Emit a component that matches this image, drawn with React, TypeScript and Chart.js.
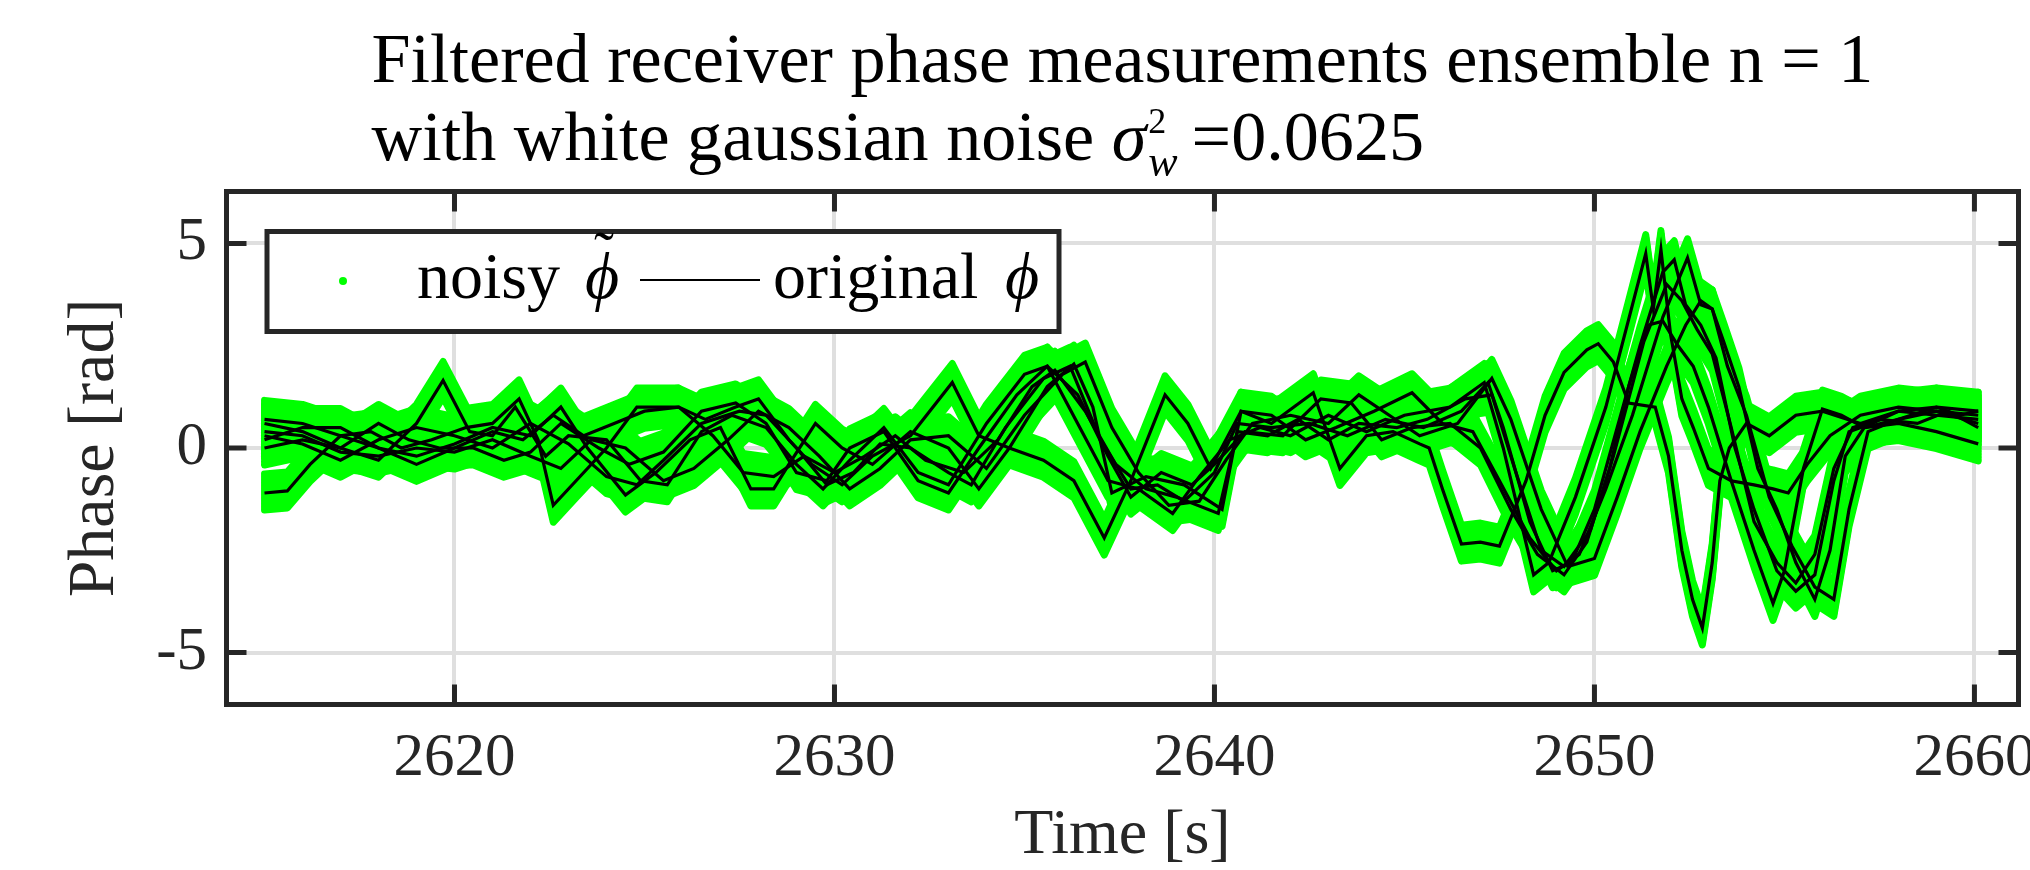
import React, { useEffect, useRef } from 'react';
import { Chart, registerables } from 'chart.js';

Chart.register(...registerables);

const SERIF = '"Liberation Serif", "Times New Roman", serif';

// ---- axes ----
const xTickValues = [2620, 2630, 2640, 2650, 2660];
const yTickValues = [-5, 0, 5];
const xLimits = [2614, 2661.16];
const yLimits = [-6.27, 6.27];

// ---- texts ----
const titleLine1 = 'Filtered receiver phase measurements ensemble n = 1';
const titleLine2 = 'with white gaussian noise';
const noiseVariance = '=0.0625';
const xLabel = 'Time [s]';
const yLabel = 'Phase [rad]';
const legendNoisy = 'noisy';
const legendOriginal = 'original';

// ---- ensemble phase curves: [time s, phase rad] ----
const curve1: [number, number][] = [
  [2615.0, -1.1], [2615.6, -1.05], [2616.2, -0.4], [2617.0, 0.3], [2617.8, 0.4], [2618.6, 0.0],
  [2619.4, 0.2], [2620.3, 0.5], [2621.0, 0.6], [2621.7, 1.2], [2622.2, 0.2], [2622.6, -1.4],
  [2623.2, -0.8], [2624.0, 0.0], [2624.8, 1.0], [2625.9, 1.0], [2626.6, 0.7], [2627.4, 1.0],
  [2628.0, 1.2], [2628.8, 0.2], [2629.4, -0.4], [2630.2, -0.9], [2631.0, -0.2], [2632.0, 0.3],
  [2633.1, 1.6], [2633.8, 0.3], [2634.6, 0.0], [2635.5, -0.3], [2636.3, -0.8], [2637.1, -2.2],
  [2637.8, -0.8], [2638.7, 1.3], [2639.3, 0.6], [2639.9, -0.5], [2640.7, 0.9], [2641.5, 0.6],
  [2642.6, 1.35], [2643.3, -0.5], [2644.0, 0.3], [2644.7, 0.4], [2645.4, 0.1], [2645.65, 0.0],
  [2646.0, -1.0], [2646.5, -2.35], [2647.0, -2.3], [2647.5, -2.4], [2648.2, -0.8], [2648.7, 0.8],
  [2649.2, 1.85], [2649.8, 2.4], [2650.1, 2.55], [2650.5, 2.1], [2650.9, 1.1], [2651.6, 1.0],
  [2651.95, -0.2], [2652.3, -2.5], [2652.58, -3.7], [2652.84, -4.4], [2653.1, -2.8], [2653.3, -0.8],
  [2653.55, 0.0], [2654.0, 0.6], [2654.6, 0.3], [2655.3, 0.8], [2656.0, 0.9], [2657.0, 0.6],
  [2658.0, 0.9], [2659.0, 1.0], [2660.1, 0.9],
];

const curve2: [number, number][] = [
  [2615.0, 0.6], [2616.0, 0.4], [2617.0, 0.0], [2618.0, -0.3], [2619.0, 0.6], [2619.7, 1.65],
  [2620.4, 0.4], [2621.0, 0.3], [2621.6, 1.0], [2622.4, -0.2], [2623.0, 0.3], [2624.0, 0.2],
  [2624.9, -0.8], [2625.6, -0.9], [2626.5, 0.4], [2627.3, 0.8], [2628.2, 0.5], [2629.0, -0.4],
  [2629.7, -1.0], [2630.4, -0.3], [2631.3, 0.5], [2632.2, -0.6], [2633.0, -0.9], [2634.0, 0.6],
  [2635.0, 1.8], [2635.6, 2.0], [2636.4, 0.6], [2637.2, -0.8], [2638.0, -1.0], [2638.9, -1.6],
  [2639.6, -0.7], [2640.4, 0.2], [2641.2, 0.5], [2642.0, 0.3], [2643.0, 0.8], [2644.0, 0.4],
  [2645.0, 0.8], [2646.2, 1.0], [2647.1, 1.6], [2647.6, 0.0], [2648.4, -3.1], [2648.8, -2.8],
  [2649.5, -1.2], [2650.3, 1.0], [2651.0, 3.5], [2651.35, 4.75], [2651.55, 3.4], [2651.75, 4.85],
  [2652.0, 2.8], [2652.3, 1.2], [2652.6, 0.5], [2653.0, -0.5], [2653.6, -0.8], [2654.2, -2.5],
  [2654.7, -3.8], [2655.0, -3.0], [2655.5, -0.5], [2656.0, 0.95], [2656.5, 0.8], [2657.1, 0.5],
  [2658.0, 0.7], [2659.0, 0.9], [2660.1, 0.6],
];

const curve3: [number, number][] = [
  [2615.0, 0.2], [2616.0, 0.5], [2617.0, 0.5], [2618.0, 0.0], [2619.0, -0.2], [2620.0, 0.1],
  [2621.0, 0.5], [2622.0, 0.3], [2622.8, 1.0], [2623.5, 0.0], [2624.5, -1.15], [2625.3, -0.6],
  [2626.2, 0.2], [2627.0, 0.5], [2627.8, -1.0], [2628.4, -1.0], [2628.8, -0.4], [2629.5, 0.6],
  [2630.2, 0.0], [2631.0, -0.4], [2632.0, 0.4], [2633.0, 0.0], [2633.8, -1.0], [2634.6, 0.0],
  [2635.6, 1.5], [2636.3, 2.05], [2636.8, 1.0], [2637.3, -1.1], [2638.2, -0.7], [2639.2, -0.9],
  [2640.2, -1.5], [2640.7, 0.9], [2641.5, 0.8], [2642.4, 0.2], [2643.2, 0.5], [2644.2, 0.9],
  [2645.2, 1.35], [2646.0, 0.6], [2646.8, 0.4], [2647.5, -0.8], [2648.3, -2.2], [2649.0, -3.0],
  [2649.6, -2.6], [2650.3, -1.0], [2651.0, 0.8], [2651.8, 3.2], [2652.45, 4.65], [2652.8, 3.5],
  [2653.1, 3.4], [2653.4, 2.6], [2653.8, 1.5], [2654.3, -0.5], [2654.8, -1.5], [2655.3, -2.8],
  [2655.8, -3.7], [2656.2, -2.5], [2656.6, -0.2], [2657.1, 0.5], [2658.0, 0.6], [2659.0, 0.4],
  [2660.1, 0.1],
];

const curve4: [number, number][] = [
  [2615.0, 0.3], [2616.0, 0.1], [2617.0, -0.3], [2618.0, 0.2], [2619.0, 0.5], [2620.0, 0.3],
  [2621.0, 0.0], [2622.0, 0.6], [2623.0, 0.1], [2624.0, -0.7], [2624.8, -0.9], [2625.5, -0.3],
  [2626.5, 0.6], [2627.5, 0.9], [2628.2, 0.8], [2629.0, 0.0], [2629.8, -0.9], [2630.5, -0.6],
  [2631.2, 0.1], [2632.0, 0.0], [2633.0, -0.6], [2633.6, -0.9], [2634.5, 0.5], [2635.5, 1.7],
  [2636.2, 2.0], [2637.0, 0.2], [2637.8, -1.0], [2638.5, -0.9], [2639.2, -1.3], [2640.0, -0.6],
  [2640.6, 0.6], [2641.5, 0.5], [2642.5, 0.6], [2643.5, 0.3], [2644.5, 0.7], [2645.5, 0.5],
  [2646.5, 0.9], [2647.2, 1.6], [2647.6, 0.5], [2648.3, -1.8], [2648.9, -3.0], [2649.4, -2.8],
  [2650.0, -1.5], [2650.6, 0.5], [2651.2, 2.5], [2651.8, 4.3], [2652.1, 4.6], [2652.4, 3.5],
  [2652.8, 3.0], [2653.2, 2.2], [2653.7, 0.0], [2654.2, -1.5], [2654.8, -3.0], [2655.3, -3.5],
  [2655.8, -3.1], [2656.3, -0.8], [2656.7, 0.4], [2657.3, 0.6], [2658.0, 0.9], [2659.0, 0.8],
  [2660.1, 0.7],
];

const curve5: [number, number][] = [
  [2615.0, 0.0], [2616.0, 0.2], [2617.0, 0.0], [2618.0, 0.6], [2618.8, 0.2], [2619.6, 0.0],
  [2620.5, 0.0], [2621.3, -0.3], [2622.0, -0.1], [2622.8, 0.6], [2623.8, 0.0], [2624.6, -0.4],
  [2625.5, -0.1], [2626.5, 0.9], [2627.4, 1.1], [2628.2, 0.6], [2629.0, -0.6], [2629.8, -0.8],
  [2630.4, 0.0], [2631.3, 0.4], [2632.2, -0.8], [2633.0, -1.1], [2633.8, 0.0], [2634.8, 1.3],
  [2635.6, 2.0], [2636.4, 1.3], [2637.2, -0.2], [2637.8, -1.2], [2638.6, -0.6], [2639.4, -0.9],
  [2640.0, -0.4], [2640.8, 0.4], [2641.8, 0.3], [2642.8, 1.2], [2643.6, 1.1], [2644.4, 0.2],
  [2645.2, 0.5], [2646.2, 0.6], [2647.0, 0.0], [2647.8, -1.5], [2648.5, -2.6], [2649.2, -3.1],
  [2649.8, -2.3], [2650.4, -0.5], [2650.9, 1.5], [2651.4, 3.0], [2651.8, 3.1], [2652.2, 2.5],
  [2652.6, 2.0], [2653.0, 1.0], [2653.6, -0.8], [2654.2, -0.9], [2654.7, -1.0], [2655.1, -1.1],
  [2655.6, -0.4], [2656.2, 0.3], [2657.0, 0.8], [2658.0, 1.0], [2659.0, 0.9], [2660.1, 0.8],
];

const curve6: [number, number][] = [
  [2615.0, 0.4], [2616.0, 0.3], [2617.0, -0.1], [2618.0, -0.2], [2619.0, 0.0], [2620.0, -0.1],
  [2621.0, 0.2], [2622.0, -0.2], [2622.8, -0.5], [2623.6, 0.2], [2624.5, 0.0], [2625.5, -0.8],
  [2626.3, -0.5], [2627.2, 0.2], [2628.0, 0.9], [2628.8, 0.5], [2629.6, -0.2], [2630.4, -1.0],
  [2631.2, -0.5], [2632.0, 0.2], [2633.0, 0.3], [2634.0, -0.5], [2635.0, 0.8], [2636.0, 1.8],
  [2636.6, 2.1], [2637.3, 0.5], [2638.0, -0.6], [2638.8, -1.4], [2639.6, -1.3], [2640.3, -0.3],
  [2641.0, 0.6], [2642.0, 0.8], [2643.0, 0.6], [2643.8, 1.3], [2644.6, 0.8], [2645.4, 0.3],
  [2646.4, 0.6], [2647.3, 1.7], [2647.8, 0.7], [2648.6, -1.5], [2649.3, -2.9], [2650.0, -2.7],
  [2650.6, -1.2], [2651.2, 0.4], [2651.9, 2.0], [2652.4, 3.0], [2652.8, 3.6], [2653.1, 3.4],
  [2653.5, 2.0], [2654.0, 0.8], [2654.6, -1.2], [2655.2, -2.4], [2655.8, -3.4], [2656.3, -3.7],
  [2656.7, -1.5], [2657.2, 0.4], [2658.0, 0.7], [2659.0, 1.0], [2659.6, 0.8], [2660.1, 0.9],
];

const curve7: [number, number][] = [
  [2615.0, 0.7], [2616.0, 0.6], [2617.0, 0.3], [2618.0, 0.0], [2619.0, -0.4], [2620.0, 0.0],
  [2621.0, 0.4], [2621.8, 0.2], [2622.6, 0.8], [2623.4, 0.3], [2624.2, 0.6], [2625.0, 0.9],
  [2625.9, 1.0], [2626.8, 0.3], [2627.6, -0.6], [2628.4, -0.7], [2629.2, -0.2], [2630.0, -0.6],
  [2630.8, -0.2], [2631.6, 0.3], [2632.4, -0.3], [2633.4, -0.6], [2634.3, 0.2], [2635.2, 1.5],
  [2635.8, 1.9], [2636.6, 0.9], [2637.4, -0.4], [2638.2, -1.0], [2639.0, -1.2], [2640.1, -1.6],
  [2640.6, 0.4], [2641.4, 0.3], [2642.2, 0.7], [2643.0, 0.2], [2643.8, 0.6], [2644.8, 0.5],
  [2645.6, 0.7], [2646.6, 1.2], [2647.3, 1.3], [2647.9, -0.5], [2648.6, -2.5], [2649.2, -2.9],
  [2649.9, -2.0], [2650.5, -0.2], [2651.3, 2.6], [2651.9, 4.0], [2652.3, 3.6], [2652.7, 2.9],
  [2653.1, 2.3], [2653.6, 0.5], [2654.2, -1.8], [2654.8, -2.8], [2655.3, -3.3], [2655.8, -2.6],
  [2656.3, -0.5], [2656.8, 0.5], [2657.5, 0.7], [2658.5, 0.6], [2659.3, 0.9], [2660.1, 0.5],
];

const ensemble = [curve1, curve2, curve3, curve4, curve5, curve6, curve7];

const GREEN = '#00ff00';
const AXIS_COLOR = '#262626';

// draws each noisy series as a vertical scatter band around its path
const noisyBandPlugin = {
  id: 'noisyBand',
  beforeDatasetDraw(chart: any, args: any) {
    const ds = chart.data.datasets[args.index];
    if (!ds.noisy) return;
    const ctx = chart.ctx;
    const a = chart.chartArea;
    ctx.save();
    ctx.beginPath();
    ctx.rect(a.left, a.top, a.right - a.left, a.bottom - a.top);
    ctx.clip();
    for (let off = -19; off <= 19; off += 3) {
      ctx.save();
      ctx.translate(0, off);
      args.meta.dataset.draw(ctx, a);
      ctx.restore();
    }
    ctx.restore();
    return false;
  },
};

const framePlugin = {
  id: 'matlabFrame',
  afterDatasetsDraw(chart: any) {
    const { ctx, chartArea: a, scales } = chart;
    ctx.save();
    ctx.strokeStyle = AXIS_COLOR;
    ctx.lineWidth = 5;
    ctx.lineCap = 'butt';
    ctx.beginPath();
    xTickValues.forEach((v) => {
      const px = scales.x.getPixelForValue(v);
      ctx.moveTo(px, a.bottom);
      ctx.lineTo(px, a.bottom - 20);
      ctx.moveTo(px, a.top);
      ctx.lineTo(px, a.top + 20);
    });
    yTickValues.forEach((v) => {
      const py = scales.y.getPixelForValue(v);
      ctx.moveTo(a.left, py);
      ctx.lineTo(a.left + 20, py);
      ctx.moveTo(a.right, py);
      ctx.lineTo(a.right - 20, py);
    });
    ctx.stroke();
    ctx.lineJoin = 'miter';
    ctx.strokeRect(a.left, a.top, a.right - a.left, a.bottom - a.top);
    ctx.restore();
  },
};

const annotationPlugin = {
  id: 'titleLegend',
  afterDraw(chart: any) {
    const { ctx, chartArea: a } = chart;
    ctx.save();
    // ---- legend ----
    const lx = 267, ly = 231.5, lw = 792, lh = 100;
    ctx.fillStyle = '#ffffff';
    ctx.fillRect(lx, ly, lw, lh);
    ctx.lineWidth = 5;
    ctx.strokeStyle = AXIS_COLOR;
    ctx.strokeRect(lx, ly, lw, lh);
    ctx.fillStyle = GREEN;
    ctx.beginPath();
    ctx.arc(343, 281, 4, 0, Math.PI * 2);
    ctx.fill();
    ctx.fillStyle = '#000000';
    ctx.textBaseline = 'alphabetic';
    ctx.textAlign = 'left';
    ctx.font = `66px ${SERIF}`;
    ctx.fillText(legendNoisy, 417, 298);
    ctx.font = `italic 66px ${SERIF}`;
    ctx.fillText('\u03D5', 585, 298);
    ctx.font = `60px ${SERIF}`;
    ctx.fillText('\u02DC', 594, 272);
    ctx.strokeStyle = '#000000';
    ctx.lineWidth = 2;
    ctx.beginPath();
    ctx.moveTo(640, 280);
    ctx.lineTo(760, 280);
    ctx.stroke();
    ctx.font = `66px ${SERIF}`;
    ctx.fillText(legendOriginal, 773, 298);
    ctx.font = `italic 66px ${SERIF}`;
    ctx.fillText('\u03D5', 1005, 298);

    // ---- title ----
    const cx = (a.left + a.right) / 2;
    ctx.font = `100px ${SERIF}`;
    const w100 = ctx.measureText(titleLine1).width;
    const size = (100 * 1502) / w100;
    ctx.font = `${size}px ${SERIF}`;
    const w1 = ctx.measureText(titleLine1).width;
    const x0 = cx - w1 / 2;
    ctx.fillText(titleLine1, x0, 82);
    ctx.fillText(titleLine2, x0, 160);
    let x = x0 + ctx.measureText(titleLine2 + ' ').width;
    ctx.font = `italic ${size}px ${SERIF}`;
    ctx.fillText('\u03C3', x, 160);
    x += ctx.measureText('\u03C3').width + 2;
    ctx.font = `36px ${SERIF}`;
    ctx.fillText('2', x, 133);
    const w2 = ctx.measureText('2').width;
    ctx.font = `italic 44px ${SERIF}`;
    ctx.fillText('w', x, 176);
    const ww = ctx.measureText('w').width;
    x += Math.max(w2, ww) + 14;
    ctx.font = `${size}px ${SERIF}`;
    ctx.fillText(noiseVariance, x, 160);
    ctx.restore();
  },
};

export default function App() {
  const canvasRef = useRef<HTMLCanvasElement | null>(null);

  useEffect(() => {
    const canvas = canvasRef.current;
    if (!canvas) return;
    const toPoints = (c: [number, number][]) => c.map(([t, v]) => ({ x: t, y: v }));
    const datasets: any[] = [];
    ensemble.forEach((c) => {
      datasets.push({
        label: 'original',
        data: toPoints(c),
        borderColor: '#000000',
        borderWidth: 3.2,
        pointRadius: 0,
        tension: 0,
        order: 0,
        noisy: false,
      });
    });
    ensemble.forEach((c) => {
      datasets.push({
        label: 'noisy',
        data: toPoints(c),
        borderColor: GREEN,
        borderWidth: 7,
        borderJoinStyle: 'round',
        borderCapStyle: 'round',
        pointRadius: 0,
        tension: 0,
        order: 1,
        noisy: true,
      });
    });

    const chart = new Chart(canvas, {
      type: 'line',
      data: { datasets },
      options: {
        animation: false,
        responsive: false,
        devicePixelRatio: 1,
        events: [],
        layout: { padding: { left: 0, top: 191.5, right: 11.5, bottom: 0 } },
        plugins: {
          legend: { display: false },
          title: { display: false },
          tooltip: { enabled: false },
        },
        scales: {
          x: {
            type: 'linear',
            position: 'bottom',
            min: xLimits[0],
            max: xLimits[1],
            afterBuildTicks: (s: any) => {
              s.ticks = xTickValues.map((v) => ({ value: v }));
            },
            afterFit: (s: any) => {
              s.height = 870 - 704.5;
              s.paddingLeft = 0;
              s.paddingRight = 0;
            },
            ticks: {
              callback: (v: any) => String(v),
              font: { family: SERIF, size: 61 },
              color: AXIS_COLOR,
              padding: 18,
              maxRotation: 0,
              autoSkip: false,
              includeBounds: false,
            },
            grid: { color: '#dfdfdf', lineWidth: 4, drawTicks: false },
            border: { display: false },
            title: {
              display: true,
              text: xLabel,
              font: { family: SERIF, size: 64, lineHeight: 1 },
              color: AXIS_COLOR,
              padding: { top: 0, bottom: 2 },
            },
          },
          y: {
            type: 'linear',
            position: 'left',
            min: yLimits[0],
            max: yLimits[1],
            afterBuildTicks: (s: any) => {
              s.ticks = yTickValues.map((v) => ({ value: v }));
            },
            afterFit: (s: any) => {
              s.width = 226.5;
              s.paddingTop = 0;
              s.paddingBottom = 0;
            },
            ticks: {
              callback: (v: any) => String(v),
              font: { family: SERIF, size: 61 },
              color: AXIS_COLOR,
              padding: 19.5,
              autoSkip: false,
              includeBounds: false,
            },
            grid: { color: '#dfdfdf', lineWidth: 4, drawTicks: false },
            border: { display: false },
            title: {
              display: true,
              text: yLabel,
              font: { family: SERIF, size: 66, lineHeight: 1 },
              color: AXIS_COLOR,
              padding: { top: 63, bottom: 0 },
            },
          },
        },
      } as any,
      plugins: [noisyBandPlugin, framePlugin, annotationPlugin],
    });
    return () => chart.destroy();
  }, []);

  return (
    <div style={{ position: 'absolute', left: 0, top: 0, width: 2030, height: 870, background: '#ffffff' }}>
      <canvas ref={canvasRef} width={2030} height={870} style={{ display: 'block', width: 2030, height: 870 }} />
    </div>
  );
}
